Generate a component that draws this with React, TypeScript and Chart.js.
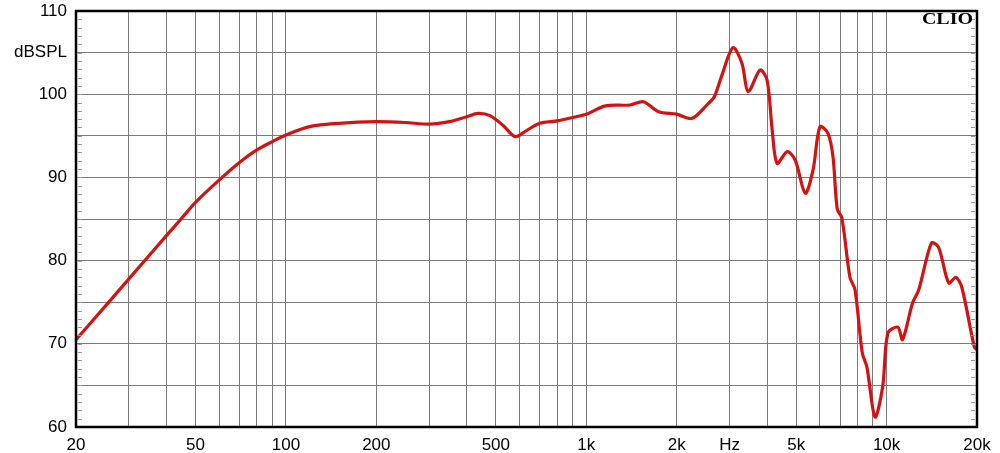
import React, { useEffect, useRef } from "react";
import { Chart, registerables } from "chart.js";

Chart.register(...registerables);

const freqs: number[] = [
  20, 25, 30, 40, 45, 50, 60, 70, 80, 90, 100, 120, 150, 200, 250, 300, 350, 400, 436, 480, 530, 580, 630, 700, 800, 900,
  1000, 1160, 1400, 1550, 1740, 2000, 2250, 2550, 2670, 2830, 3080, 3300, 3460, 3790, 4000, 4160, 4320, 4670,
  4960, 5360, 5690, 6000, 6380, 6630, 6850, 7100, 7550, 7850, 8300, 8600, 9150, 9700, 10100, 10900, 11300, 12200,
  12800, 14100, 14900, 16100, 17000, 17800, 19600, 20000,
];
const spl: number[] = [
  70.5, 74.5, 77.8, 83, 85.1, 87, 89.7, 91.8, 93.3, 94.3, 95.1, 96.1, 96.5, 96.7, 96.6, 96.4, 96.7, 97.3, 97.7, 97.4, 96.2,
  94.9, 95.6, 96.5, 96.8, 97.2, 97.6, 98.6, 98.7, 99.1, 97.9, 97.6, 97.1, 98.9, 99.7, 102.3, 105.6, 103.7, 100.3,
  102.9, 101.7, 95.7, 91.7, 93.1, 92.1, 88.1, 90.9, 96.1, 95.3, 92.5, 86.2, 85.1, 78, 76.5, 68.9, 67.2, 61.2, 64.8,
  71.3, 72, 70.5, 74.9, 76.5, 82.1, 81.6, 77.3, 78, 76.8, 69.6, 69.3,
];

const xGrid: number[] = [
  20, 30, 40, 50, 60, 70, 80, 90, 100, 200, 300, 400, 500, 600, 700, 800, 900, 1000, 2000, 3000, 4000, 5000, 6000,
  7000, 8000, 9000, 10000, 20000,
];
const xLabelValues: number[] = [20, 50, 100, 200, 500, 1000, 2000, 3000, 5000, 10000, 20000];
const xLabelTexts: string[] = ["20", "50", "100", "200", "500", "1k", "2k", "Hz", "5k", "10k", "20k"];
const yLabelValues: number[] = [60, 70, 80, 90, 100, 105, 110];
const yLabelTexts: string[] = ["60", "70", "80", "90", "100", "dBSPL", "110"];

const FONT = "'Liberation Sans', Arial, sans-serif";

const framePlugin = {
  id: "frame",
  afterDraw(chart: any) {
    const { ctx, chartArea } = chart;
    const ys = chart.scales.y;
    ctx.save();
    ctx.strokeStyle = "#9a9a9a";
    ctx.lineWidth = 1;
    for (let v = 60; v <= 110; v++) {
      const py = Math.round(ys.getPixelForValue(v)) + 0.5;
      ctx.beginPath();
      ctx.moveTo(chartArea.left + 2, py);
      ctx.lineTo(chartArea.left + 6, py);
      ctx.moveTo(chartArea.right - 6, py);
      ctx.lineTo(chartArea.right - 2, py);
      ctx.stroke();
    }
    ctx.strokeStyle = "#000";
    ctx.lineWidth = 2.5;
    ctx.strokeRect(chartArea.left, chartArea.top, chartArea.right - chartArea.left, chartArea.bottom - chartArea.top);
    ctx.fillStyle = "#000";
    ctx.font = "bold 16px 'Liberation Serif', 'Times New Roman', serif";
    ctx.textAlign = "right";
    ctx.textBaseline = "alphabetic";
    ctx.translate(chartArea.right - 4, chartArea.top + 13);
    ctx.scale(1.25, 1);
    ctx.fillText("CLIO", 0, 0);
    ctx.restore();
  },
};

export default function App() {
  const ref = useRef<HTMLCanvasElement | null>(null);

  useEffect(() => {
    document.body.style.margin = "0";
    if (!ref.current) return;
    const chart = new Chart(ref.current, {
      type: "line",
      data: {
        datasets: [
          {
            data: freqs.map((f, i) => ({ x: f, y: spl[i] })),
            borderColor: "#d41212",
            borderWidth: 3.2,
            pointRadius: 0,
            tension: 0.3,
            fill: false,
          },
        ],
      },
      options: {
        animation: false,
        responsive: false,
        devicePixelRatio: 1,
        layout: { padding: { top: 11, right: 23, left: 0, bottom: 0 } },
        plugins: { legend: { display: false }, tooltip: { enabled: false } },
        scales: {
          x: {
            type: "logarithmic",
            min: 20,
            max: 20000,
            afterBuildTicks: (scale: any) => {
              scale.ticks = xGrid.map((v) => ({ value: v }));
            },
            afterFit: (scale: any) => {
              scale.height = 26;
            },
            grid: { color: "#7a7a7a", lineWidth: 1, drawTicks: false },
            border: { display: false },
            ticks: {
              autoSkip: false,
              maxRotation: 0,
              padding: 8,
              color: "#000",
              font: { family: FONT, size: 17 },
              callback: (v: any) => {
                const i = xLabelValues.indexOf(Number(v));
                return i >= 0 ? xLabelTexts[i] : "";
              },
            },
          },
          y: {
            min: 60,
            max: 110,
            afterBuildTicks: (scale: any) => {
              const t = [];
              for (let v = 60; v <= 110; v += 5) t.push({ value: v });
              scale.ticks = t;
            },
            afterFit: (scale: any) => {
              scale.width = 76;
              scale.paddingTop = 0;
              scale.paddingBottom = 0;
            },
            grid: { color: "#7a7a7a", lineWidth: 1, drawTicks: false },
            border: { display: false },
            ticks: {
              autoSkip: false,
              padding: 9,
              color: "#000",
              font: { family: FONT, size: 17 },
              callback: (v: any) => {
                const i = yLabelValues.indexOf(Number(v));
                return i >= 0 ? yLabelTexts[i] : "";
              },
            },
          },
        },
      },
      plugins: [framePlugin],
    } as any);
    return () => chart.destroy();
  }, []);

  return (
    <div style={{ width: 1000, height: 453, background: "#fff" }}>
      <canvas ref={ref} width={1000} height={453} style={{ display: "block" }} />
    </div>
  );
}
